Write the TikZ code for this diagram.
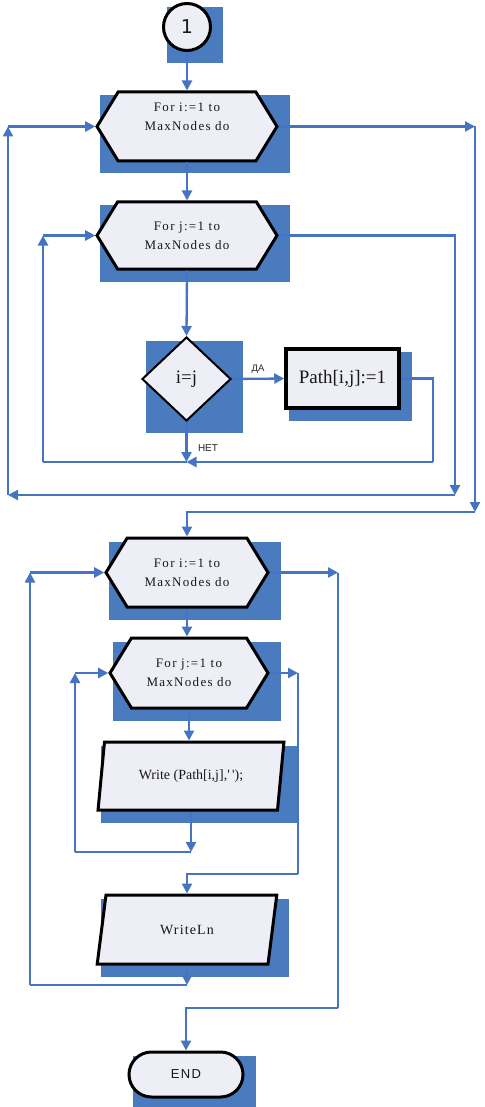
\documentclass[tikz,border=0pt]{standalone}
\usepackage{fontspec}
\setmainfont{Liberation Serif}
\newfontfamily\rotulofont{Liberation Sans}
\newfontfamily\digitofont{DejaVu Sans}
\usepackage{xcolor}
\definecolor{sombra}{HTML}{4A7BBF}
\definecolor{linha}  {HTML}{4574C2}
\definecolor{fundo}  {HTML}{EDEEF6}
\usetikzlibrary{arrows.meta,positioning,calc,backgrounds,shapes.symbols,shapes.geometric,shapes.misc}

\begin{document}
\begin{tikzpicture}[x=1pt, y=-1pt,
  forma/.style={draw=black, fill=fundo, line width=3pt, align=center, inner sep=0pt, text=black!90},
  ciclo/.style={forma, signal, signal to=west and east, signal pointer angle=117, minimum width=180pt, minimum height=69pt, font=\fontsize{13}{19}\selectfont\addfontfeatures{LetterSpace=10}},
  saida/.style={forma, trapezium, trapezium left angle=73, trapezium right angle=107, trapezium stretches=true, minimum width=186pt, minimum height=68pt},
  con/.style={line width=2.3pt, color=linha},
  seta/.style={con, -{Triangle[length=10pt, width=10pt]}},
  rotulo/.style={font=\rotulofont\fontsize{9.5}{11}\selectfont, text=black!85}]
  \useasboundingbox (0,0) rectangle (484,1107);
  % primeiro bloco
  \node[forma, circle, minimum size=47pt, font=\digitofont\fontsize{19}{20}\selectfont] (c1) at (187,27) {1};
  \node[ciclo] (h1) at (187,126.5) {For i:=1 to\\MaxNodes do\\\mbox{}};
  \node[ciclo, minimum height=67pt] (h2) at (187,235.5) {For j:=1 to\\MaxNodes do};
  \node[forma, diamond, line width=2pt, minimum width=89pt, minimum height=84pt, font=\fontsize{19}{20}\selectfont] (d) at (186.5,379) {i=j};
  \node[forma, rectangle, line width=3.5pt, minimum width=113pt, minimum height=59pt, font=\fontsize{19}{20}\selectfont] (p) at (342.5,378.5) {Path[i,j]:=1};
  % segundo bloco
  \node[ciclo, minimum width=162pt] (h3) at (187,572.5) {For i:=1 to\\MaxNodes do};
  \node[ciclo, minimum width=158pt, minimum height=70pt] (h4) at (189,673) {For j:=1 to\\MaxNodes do};
  \node[saida, font=\fontsize{14}{15}\selectfont] (w1) at (191,776) {Write (Path[i,j],\textquotesingle\,\textquotesingle);};
  \node[saida, minimum width=180pt, minimum height=69pt, font=\fontsize{14}{15}\selectfont\addfontfeatures{LetterSpace=8}] (w2) at (187,929.5) {WriteLn};
  \node[forma, rounded rectangle, minimum width=114pt, minimum height=45pt, font=\rotulofont\fontsize{13}{14}\selectfont\addfontfeatures{LetterSpace=10}] (e) at (186,1074.5) {END};
  \begin{scope}[on background layer]
    \foreach \n in {c1,h1,h2,d,p,h3,h4,e}
      \fill[sombra] ($(\n.west |- \n.north)+(5,5)$) rectangle ($(\n.east |- \n.south)+(11,11)$);
    \foreach \n in {w1,w2}
      \fill[sombra] ($(\n.bottom left corner |- \n.top right corner)+(5,5)$) rectangle ($(\n.top right corner |- \n.bottom left corner)+(11,11)$);
  \end{scope}
  % ligacoes do primeiro bloco
  \coordinate (jn) at (186.5,462);
  \coordinate (vp) at (433,462);
  \coordinate (vj) at (43,462);
  \coordinate (vi) at (455,495);
  \coordinate (vl) at (8,495);
  \coordinate (fi) at (475,512);
  \draw[seta] (c1.south) -- (h1.north);
  \draw[seta] (h1.south) -- (h2.north);
  \draw[seta] (h2.south) -- (d.north);
  \draw[seta] (d.east) -- node[rotulo, above=1pt] {ДА} (p.west);
  \draw[con] (p.east) -| (vp);
  \draw[seta] (vp) -- (jn);
  \draw[seta] (d.south) -- (jn);
  \node[rotulo, font=\rotulofont\fontsize{10}{11}\selectfont] (net) at (208,448) {НЕТ};
  \draw[con] (jn) -- (vj);
  \draw[seta] (vj) -- (vj |- h2.west);
  \draw[seta] (vj |- h2.west) -- (h2.west);
  \draw[seta] (h2.east) -| (vi);
  \draw[seta] (vi) -- (vl);
  \draw[seta] (vl) -- (vl |- h1.west);
  \draw[seta] (vl |- h1.west) -- (h1.west);
  \draw[seta] (h1.east) -- (h1.east -| fi);
  \draw[seta] (h1.east -| fi) -- (fi);
  \draw[seta] (fi) -| (h3.north);
  % ligacoes do segundo bloco
  \coordinate (vw) at (75,852);
  \coordinate (fj) at (298,874);
  \coordinate (vn) at (30,985);
  \coordinate (fe) at (338,1008);
  \draw[seta] (h3.south) -- (h3.south |- h4.north);
  \draw[seta] (h4.south) -- (h4.south |- w1.north);
  \draw[seta] (w1.south) -- (w1.south |- vw);
  \draw[con] (w1.south |- vw) -- (vw);
  \draw[seta] (vw) -- (vw |- h4.west);
  \draw[seta] (vw |- h4.west) -- (h4.west);
  \draw[seta] (h4.east) -- (h4.east -| fj);
  \draw[con] (h4.east -| fj) -- (fj);
  \draw[seta] (fj) -| (w2.north);
  \draw[seta] (w2.south) -- (w2.south |- vn);
  \draw[con] (w2.south |- vn) -- (vn);
  \draw[seta] (vn) -- (vn |- h3.west);
  \draw[seta] (vn |- h3.west) -- (h3.west);
  \draw[seta] (h3.east) -- (h3.east -| fe);
  \draw[con] (h3.east -| fe) -- (fe);
  \draw[seta] (fe) -| (e.north);
\end{tikzpicture}
\end{document}
